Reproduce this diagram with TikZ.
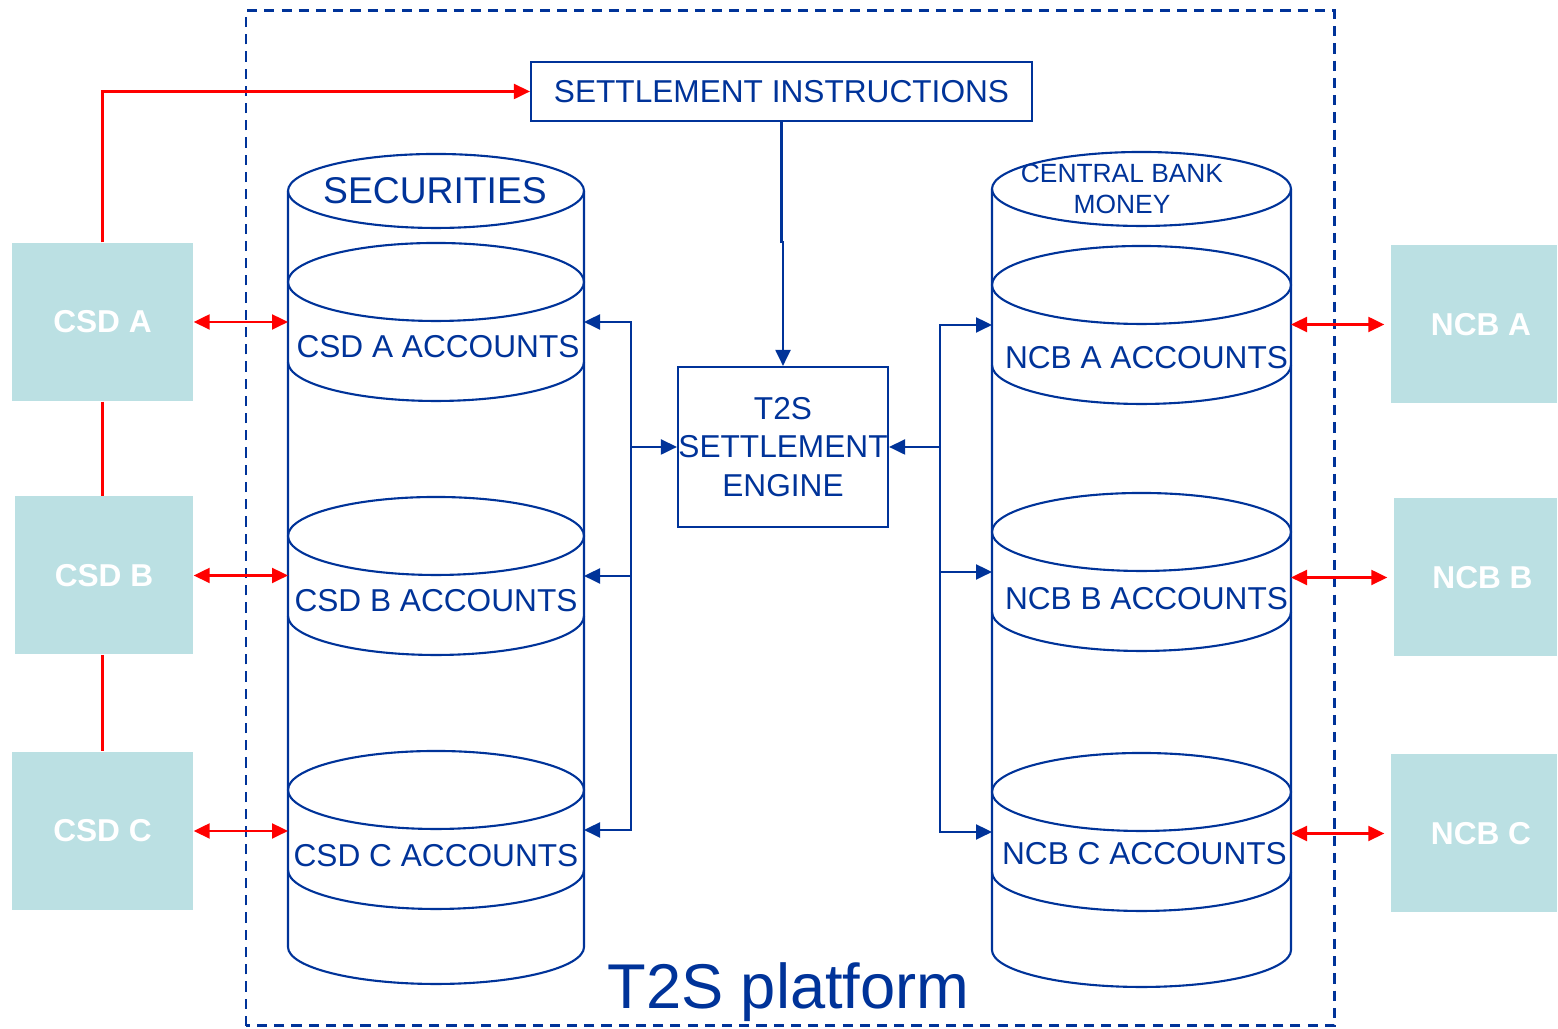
\documentclass[tikz,border=0pt]{standalone}
\usepackage{fontspec}
\setmainfont{Liberation Sans}
\usetikzlibrary{calc,arrows.meta}
\definecolor{tsblue}{RGB}{0,51,153}
\definecolor{tsred}{RGB}{255,0,0}
\definecolor{tsteal}{RGB}{187,224,227}
\tikzset{
	bline/.style={draw=tsblue,line width=0.6pt},
	barrow/.style={bline,-{Triangle[length=0.16cm,width=0.15cm]}},
	rline/.style={draw=tsred,line width=0.6pt},
	rarrow/.style={rline,{Triangle[length=0.16cm,width=0.15cm]}-{Triangle[length=0.16cm,width=0.15cm]}},
	frame/.style={draw=tsblue,line width=0.85pt,dash pattern=on 2.9pt off 2pt},
	party/.style={fill=tsteal,text=white,font=\fontsize{9}{11}\selectfont\bfseries,minimum width=1.81cm,minimum height=1.58cm,inner sep=0},
	acctext/.style={text=tsblue,font=\fontsize{9}{11}\selectfont,inner sep=0},
	bluebox/.style={bline,text=tsblue,font=\fontsize{9}{11}\selectfont,inner sep=0,align=center}
}
\newcommand{\makecyl}[4]{
	\draw[bline] (#1,#2) ellipse [x radius=#4, y radius=0.37];
	\draw[bline] ($(#1,#2)+(-#4,0)$) -- ($(#1,#3)+(-#4,0)$) arc[start angle=180,end angle=360,x radius=#4,y radius=0.37] -- ($(#1,#2)+(#4,0)$);
}
\newcommand{\makeacct}[5]{
	\coordinate (#1) at (#2);
	\draw[bline] (#1) ellipse [x radius=#3, y radius=0.39];
	\draw[bline] ($(#1)+(-#3,-0.8)$) arc[start angle=180,end angle=360,x radius=#3,y radius=0.39];
	\coordinate (#1-w) at ($(#1)+(-#3,-0.4)$);
	\coordinate (#1-e) at ($(#1)+(#3,-0.4)$);
	\node[acctext] (#1-l) at ($(#1)+(#4)$) {#5};
}

\begin{document}
\begin{tikzpicture}
	\useasboundingbox (0,0) rectangle (15.58,10.29);
	\draw[frame] (2.46,0.03) rectangle (13.34,10.18);

	\makecyl{4.36}{8.38}{0.82}{1.48}
	\node[acctext,font=\fontsize{10.6}{12}\selectfont] (sec) at (4.35,8.38) {SECURITIES};
	\makeacct{acsdA}{4.36,7.47}{1.48}{0.02,-0.65}{CSD A ACCOUNTS}
	\makeacct{acsdB}{4.36,4.93}{1.48}{0,-0.65}{CSD B ACCOUNTS}
	\makeacct{acsdC}{4.36,2.39}{1.48}{0,-0.66}{CSD C ACCOUNTS}

	\makecyl{11.415}{8.40}{0.79}{1.495}
	\node[acctext,font=\fontsize{7.5}{8.8}\selectfont,align=center] (cbm) at (11.22,8.40) {CENTRAL BANK\\MONEY};
	\makeacct{ancbA}{11.415,7.44}{1.495}{0.05,-0.73}{NCB A ACCOUNTS}
	\makeacct{ancbB}{11.415,4.97}{1.495}{0.05,-0.67}{NCB B ACCOUNTS}
	\makeacct{ancbC}{11.415,2.37}{1.495}{0.03,-0.62}{NCB C ACCOUNTS}

	\node[party] (csdA) at (1.025,7.07) {CSD A};
	\node[party,minimum width=1.78cm] (csdB) at (1.04,4.535) {CSD B};
	\node[party] (csdC) at (1.025,1.98) {CSD C};
	\node[party,minimum width=1.66cm] (ncbA) at (14.74,7.045) {\hspace*{0.14cm}NCB A};
	\node[party,minimum width=1.63cm] (ncbB) at (14.755,4.515) {\hspace*{0.14cm}NCB B};
	\node[party,minimum width=1.66cm] (ncbC) at (14.74,1.955) {\hspace*{0.14cm}NCB C};

	\node[bluebox,minimum width=5.01cm,minimum height=0.59cm] (instr) at (7.815,9.375) {SETTLEMENT INSTRUCTIONS};
	\node[bluebox,minimum width=2.10cm,minimum height=1.60cm] (engine) at (7.83,5.82) {T2S\\SETTLEMENT\\ENGINE};
	\node[text=tsblue,font=\fontsize{18}{22}\selectfont,anchor=base,inner sep=0] (plat) at (7.885,0.20) {T2S platform};

	\draw[barrow] (instr.south) |- ($(engine.north)+(0,1.24)$) -- (engine.north);
	\coordinate (lbus) at (6.31,5.82);
	\coordinate (rbus) at (9.40,5.82);
	\draw[barrow] (lbus) -- (engine.west);
	\draw[barrow] (rbus) -- (engine.east);
	\foreach \n in {A,B,C} {
		\draw[barrow] (lbus) |- (acsd\n-e);
		\draw[barrow] (rbus) |- (ancb\n-w);
		\draw[rarrow] (csd\n.east) -- (csd\n.east -| acsd\n-w);
		\draw[rarrow,shorten <=0.06cm] (ncb\n.west) -- (ncb\n.west -| ancb\n-e);
	}

	\draw[rline,-{Triangle[length=0.16cm,width=0.15cm]}] (csdA.north) |- (instr.west);
	\draw[rline] (csdA.south) -- (csdA.south |- csdB.north);
	\draw[rline] (csdB.south -| csdA.south) -- (csdC.north);
\end{tikzpicture}
\end{document}
